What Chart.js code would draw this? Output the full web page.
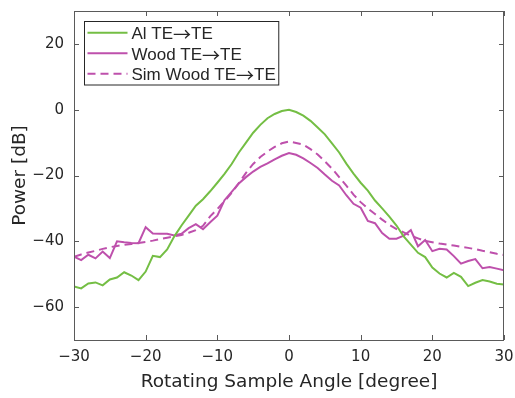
<!DOCTYPE html>
<html>
<head>
<meta charset="utf-8">
<script src="https://cdn.jsdelivr.net/npm/chart.js@4"></script>
<style>
  html, body { margin: 0; padding: 0; background: #fff; }
  #wrap { width: 515px; height: 398px; }
</style>
</head>
<body>
<div id="wrap"><canvas id="powerChart" width="515" height="398"></canvas></div>
<script>
// angle in degrees, one point per degree
const angles = [];
for (let a = -30; a <= 30; a++) angles.push(a);

const alTE = [
  -53.7, -54.3, -52.8, -52.5, -53.4, -51.6, -51.0, -49.4, -50.4, -51.8,
  -49.2, -44.4, -44.8, -42.5, -38.5, -35.2, -32.2, -29.2, -27.2, -24.8,
  -22.2, -19.5, -16.5, -13.0, -10.0, -7.0, -4.6, -2.6, -1.3, -0.4,
  0.0,
  -0.7, -1.8, -3.4, -5.4, -7.5, -10.2, -13.0, -16.4, -19.4, -22.2,
  -24.6, -27.6, -30.0, -32.5, -35.2, -38.5, -41.0, -43.5, -44.8, -48.0,
  -49.8, -51.0, -49.6, -50.8, -53.6, -52.6, -51.8, -52.2, -52.9, -53.1
];

const woodTE = [
  -44.7, -45.7, -44.1, -45.2, -43.1, -45.1, -40.0, -40.3, -40.5, -40.6,
  -35.7, -37.6, -37.7, -37.7, -38.2, -37.7, -36.0, -34.8, -36.3, -34.2,
  -32.2, -27.5, -25.0, -22.4, -20.5, -18.8, -17.4, -16.3, -15.1, -14.0,
  -13.2,
  -13.7, -14.8, -16.2, -17.7, -19.7, -21.6, -23.0, -26.0, -28.6, -29.8,
  -33.8, -34.5, -37.5, -39.2, -39.2, -38.3, -36.6, -41.5, -39.6, -43.0,
  -42.3, -42.5, -44.5, -46.8, -46.0, -45.4, -48.2, -47.8, -48.3, -48.8
];

const simWoodTE = [
  -44.7, -44.0, -43.4, -42.9, -42.3, -41.8, -41.4, -41.1, -40.8, -40.5,
  -40.2, -39.8, -39.3, -38.9, -38.5, -38.1, -37.4, -36.6, -35.3, -32.4,
  -30.2, -27.8, -25.3, -22.3, -19.2, -16.5, -14.4, -12.7, -11.3, -10.2,
  -9.7,
  -10.1, -10.6, -12.0, -13.6, -15.7, -17.9, -20.5, -23.1, -25.8, -28.1,
  -30.0, -31.7, -33.4, -35.0, -36.3, -37.3, -38.3, -39.1, -39.9, -40.3,
  -40.7, -41.0, -41.3, -41.7, -42.0, -42.4, -42.9, -43.3, -43.8, -44.2
];

const xTicks = [-30, -20, -10, 0, 10, 20, 30];
const yTicks = [-60, -40, -20, 0, 20];
const seriesNames = ['Al TE\u2192TE', 'Wood TE\u2192TE', 'Sim Wood TE\u2192TE'];

const FONT = '"DejaVu Sans", sans-serif';
const LEG_FONT = '17px "Liberation Sans", sans-serif';
const ARROW_FONT = '18px "Noto Sans CJK JP", sans-serif';
const GREEN = 'rgb(116,190,68)';
const PURPLE = 'rgb(190,80,172)';
const AXIS = '#5a5a5a';
const TEXT = '#262626';

const toPoints = vals => angles.map((a, i) => ({ x: a, y: vals[i] }));
const minusSign = v => String(v).replace('-', '\u2212');

// split label so the arrow can use a wide CJK glyph
function labelParts(ctx, label) {
  const bits = label.split('\u2192');
  const parts = [];
  bits.forEach((b, i) => {
    if (i > 0) parts.push({ t: '\u2192', f: ARROW_FONT, dy: 2 });
    if (b) parts.push({ t: b, f: LEG_FONT, dy: 0 });
  });
  let w = 0;
  parts.forEach(p => { ctx.font = p.f; p.w = ctx.measureText(p.t).width; w += p.w; });
  return { parts, w };
}

// box, inward ticks on all four sides, legend inside plot
const framePlugin = {
  id: 'frame',
  afterDatasetsDraw(chart) {
    const { ctx, chartArea: ca, scales } = chart;
    ctx.save();
    ctx.strokeStyle = AXIS;
    ctx.lineWidth = 1;
    ctx.strokeRect(ca.left + 0.5, ca.top + 0.5, ca.right - ca.left - 1, ca.bottom - ca.top);
    const tl = 5;
    ctx.beginPath();
    xTicks.forEach(v => {
      const px = Math.round(scales.x.getPixelForValue(v)) + 0.5;
      ctx.moveTo(px, ca.bottom); ctx.lineTo(px, ca.bottom - tl);
      ctx.moveTo(px, ca.top); ctx.lineTo(px, ca.top + tl);
    });
    yTicks.forEach(v => {
      const py = Math.round(scales.y.getPixelForValue(v)) + 0.5;
      ctx.moveTo(ca.left, py); ctx.lineTo(ca.left + tl, py);
      ctx.moveTo(ca.right, py); ctx.lineTo(ca.right - tl, py);
    });
    ctx.stroke();

    // legend
    const lineLen = 40, gap = 4, rowH = 20.5, padX = 3, padY = 1;
    const labels = chart.data.datasets.map(ds => labelParts(ctx, ds.label));
    const tw = Math.max(...labels.map(l => l.w));
    const bx = ca.left + 10.5, by = ca.top + 10.5;
    const bw = padX * 2 + lineLen + gap + tw;
    const bh = padY * 2 + rowH * chart.data.datasets.length;
    ctx.fillStyle = '#fff';
    ctx.fillRect(bx, by, bw, bh);
    ctx.strokeStyle = '#262626';
    ctx.strokeRect(bx, by, bw, bh);
    chart.data.datasets.forEach((ds, i) => {
      const cy = by + padY + rowH * i + rowH / 2;
      ctx.strokeStyle = ds.borderColor;
      ctx.lineWidth = 2;
      ctx.setLineDash(ds.borderDash || []);
      ctx.beginPath();
      ctx.moveTo(bx + padX, cy);
      ctx.lineTo(bx + padX + lineLen, cy);
      ctx.stroke();
      ctx.setLineDash([]);
      ctx.fillStyle = TEXT;
      ctx.textBaseline = 'alphabetic';
      ctx.textAlign = 'left';
      let tx = bx + padX + lineLen + gap;
      labels[i].parts.forEach(p => {
        ctx.font = p.f;
        ctx.fillText(p.t, tx, cy + 6.5 + p.dy);
        tx += p.w;
      });
    });
    ctx.restore();
  }
};

const ctx = document.getElementById('powerChart').getContext('2d');
const powerChart = new Chart(ctx, {
  type: 'line',
  data: {
    datasets: [
      { label: seriesNames[0], data: toPoints(alTE), borderColor: GREEN, borderWidth: 2, pointRadius: 0, tension: 0, fill: false },
      { label: seriesNames[1], data: toPoints(woodTE), borderColor: PURPLE, borderWidth: 2, pointRadius: 0, tension: 0, fill: false },
      { label: seriesNames[2], data: toPoints(simWoodTE), borderColor: PURPLE, borderWidth: 2, borderDash: [8, 5], pointRadius: 0, tension: 0, fill: false }
    ]
  },
  options: {
    responsive: false,
    animation: false,
    layout: { padding: { top: 11, right: 11, left: 0, bottom: 0 } },
    plugins: {
      legend: { display: false },
      tooltip: { enabled: false }
    },
    scales: {
      x: {
        type: 'linear',
        min: -30,
        max: 30,
        afterBuildTicks: scale => { scale.ticks = xTicks.map(v => ({ value: v })); },
        afterFit: scale => {
          scale.height = 58;
          scale.paddingLeft = 0;
          scale.paddingRight = 0;
        },
        grid: { display: false, drawTicks: false },
        border: { display: false },
        ticks: {
          color: TEXT,
          font: { family: FONT, size: 15 },
          padding: 8,
          maxRotation: 0,
          callback: v => minusSign(v)
        },
        title: {
          display: true,
          text: 'Rotating Sample Angle [degree]',
          color: TEXT,
          font: { family: FONT, size: 18.5 },
          padding: { top: 0, bottom: 5 }
        }
      },
      y: {
        min: -70,
        max: 30,
        afterBuildTicks: scale => { scale.ticks = yTicks.map(v => ({ value: v })); },
        afterFit: scale => {
          scale.width = 74;
          scale.paddingTop = 0;
          scale.paddingBottom = 0;
        },
        grid: { display: false, drawTicks: false },
        border: { display: false },
        ticks: {
          color: TEXT,
          font: { family: FONT, size: 15 },
          padding: 10,
          callback: v => minusSign(v)
        },
        title: {
          display: true,
          text: 'Power [dB]',
          color: TEXT,
          font: { family: FONT, size: 18.5 },
          padding: { top: 9, bottom: 0 }
        }
      }
    }
  },
  plugins: [framePlugin]
});
</script>
</body>
</html>
